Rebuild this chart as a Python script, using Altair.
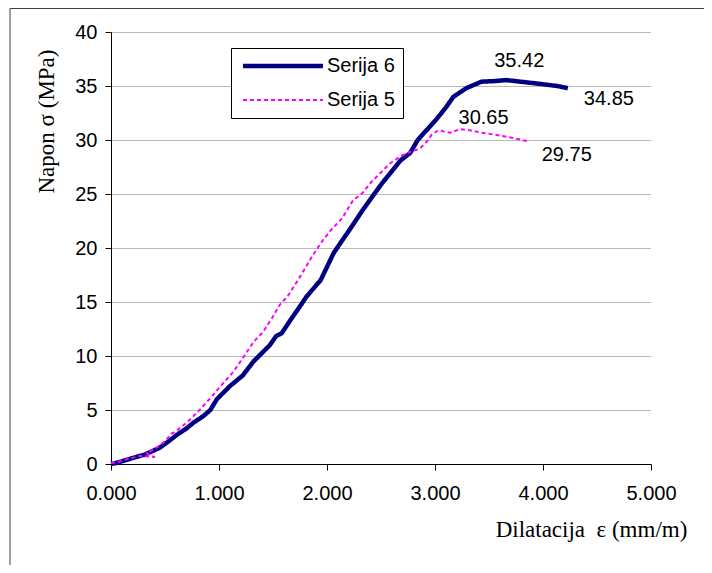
import altair as alt
import pandas as pd

# Serija 6 (navy, solid)
s6_x = [0.00, 0.05, 0.10, 0.20, 0.32, 0.45, 0.52, 0.61, 0.70, 0.76,
        0.85, 0.92, 0.98, 1.10, 1.22, 1.32, 1.38, 1.47, 1.53, 1.58,
        1.66, 1.75, 1.81, 1.94, 2.06, 2.12, 2.21, 2.33, 2.43, 2.51,
        2.60, 2.68, 2.77, 2.84, 2.93, 3.02, 3.10, 3.17, 3.29, 3.43,
        3.54, 3.66, 3.79, 3.97, 4.13, 4.23]
s6_y = [0.0, 0.1, 0.25, 0.55, 0.9, 1.5, 2.0, 2.7, 3.3, 3.8,
        4.4, 5.0, 6.0, 7.2, 8.2, 9.5, 10.1, 11.0, 11.85, 12.1,
        13.3, 14.6, 15.5, 17.0, 19.5, 20.4, 21.7, 23.5, 24.9, 26.0,
        27.1, 28.1, 28.8, 30.0, 31.0, 32.0, 33.0, 34.0, 34.8, 35.4,
        35.45, 35.55, 35.4, 35.2, 35.0, 34.8]

# Serija 5 (magenta, dashed)
s5_x = [0.00, 0.05, 0.15, 0.27, 0.40, 0.33, 0.42, 0.50, 0.56, 0.58,
        0.61, 0.72, 0.82, 0.92, 1.04, 1.13, 1.22, 1.32, 1.41, 1.49,
        1.56, 1.64, 1.73, 1.87, 1.96, 2.04, 2.14, 2.24, 2.33, 2.40,
        2.49, 2.58, 2.68, 2.77, 2.86, 2.92, 2.97, 3.03, 3.14, 3.23,
        3.32, 3.42, 3.57, 3.74, 3.85]
s5_y = [0.1, 0.15, 0.45, 0.75, 0.65, 1.0, 1.5, 2.1, 2.8, 2.9,
        3.1, 4.0, 5.0, 6.1, 7.5, 8.5, 9.8, 11.3, 12.25, 13.5,
        14.7, 15.6, 17.0, 19.35, 20.7, 21.7, 22.75, 24.4, 25.1, 26.0,
        26.9, 27.8, 28.5, 28.9, 29.2, 29.8, 30.5, 30.9, 30.67, 31.0,
        30.9, 30.7, 30.46, 30.15, 29.9]

series_names = ["Serija 6", "Serija 5"]

# annotation labels (text, label position in data units)
ann_text = ["35.42", "34.85", "30.65", "29.75"]
ann_x = [3.78, 4.61, 3.45, 4.22]
ann_y = [37.3, 33.8, 32.0, 28.6]

x_ticks = [0, 1, 2, 3, 4, 5]
y_ticks = [0, 5, 10, 15, 20, 25, 30, 35, 40]

rows = []
for i, (x, y) in enumerate(zip(s6_x, s6_y)):
    rows.append({"eps": x, "sig": y, "serie": series_names[0], "i": i})
for i, (x, y) in enumerate(zip(s5_x, s5_y)):
    rows.append({"eps": x, "sig": y, "serie": series_names[1], "i": i})
df = pd.DataFrame(rows)

ann = pd.DataFrame({"t": ann_text, "x": ann_x, "y": ann_y})

xscale = alt.Scale(domain=[0, 5], nice=False)
yscale = alt.Scale(domain=[0, 40], nice=False)

lines = alt.Chart(df).mark_line(strokeCap="butt", strokeJoin="round").encode(
    x=alt.X("eps:Q", scale=xscale,
            axis=alt.Axis(values=x_ticks, format=".3f", grid=False,
                          title="Dilatacija\u00a0 ε (mm/m)",
                          titleFont="Liberation Serif", titleFontSize=23,
                          titleFontWeight="normal", titleColor="black",
                          titleAlign="center", titleBaseline="alphabetic",
                          titleX=480, titleY=72,
                          labelFont="Liberation Sans", labelFontSize=20,
                          labelColor="black", labelPadding=13,
                          tickSize=6, tickColor="black",
                          domainColor="black", labelFlush=False)),
    y=alt.Y("sig:Q", scale=yscale,
            axis=alt.Axis(values=y_ticks, grid=True,
                          gridColor="#707070", gridDash=[1, 1], gridWidth=1,
                          title="Napon σ (MPa)",
                          titleFont="Liberation Serif", titleFontSize=23,
                          titleFontWeight="normal", titleColor="black",
                          titleAlign="center", titleBaseline="alphabetic",
                          titleAngle=270, titleX=-58, titleY=89,
                          labelFont="Liberation Sans", labelFontSize=20,
                          labelColor="black", labelPadding=8,
                          tickSize=6, tickColor="black",
                          domainColor="black")),
    color=alt.Color("serie:N",
                    scale=alt.Scale(domain=series_names, range=["#000080", "#FF00FF"]),
                    legend=alt.Legend(title=None, orient="none", legendX=120, legendY=16,
                                      strokeColor="black", fillColor="white",
                                      padding=8, symbolType="M-1.2,0H14.8",
                                      symbolSize=100, labelOffset=68, rowPadding=14,
                                      labelFont="Liberation Sans", labelFontSize=20,
                                      labelColor="black", cornerRadius=0)),
    strokeDash=alt.StrokeDash("serie:N",
                              scale=alt.Scale(domain=series_names, range=[[1, 0], [4, 3]]),
                              legend=alt.Legend(title=None)),
    strokeWidth=alt.StrokeWidth("serie:N",
                                scale=alt.Scale(domain=series_names, range=[4.5, 2]),
                                legend=alt.Legend(title=None)),
    order="i:Q",
)

labels = alt.Chart(ann).mark_text(font="Liberation Sans", fontSize=20, color="black",
                                   align="center", baseline="middle").encode(
    x=alt.X("x:Q", scale=xscale),
    y=alt.Y("y:Q", scale=yscale),
    text="t:N",
)

frame = alt.Chart(pd.DataFrame({"a": [0]})).mark_rect(
    filled=False, stroke="#404040", strokeWidth=1).encode(
    x=alt.value(-101), x2=alt.value(800), y=alt.value(-23.5), y2=alt.value(700))

chart = alt.layer(frame, lines, labels).properties(
    width=540, height=432,
    autosize=alt.AutoSizeParams(type="none"),
    padding={"left": 103, "top": 24, "right": 53, "bottom": 101},
    background="white",
).configure_view(stroke=None)

chart.save("out.html", embed_options={"renderer": "svg", "actions": False})
